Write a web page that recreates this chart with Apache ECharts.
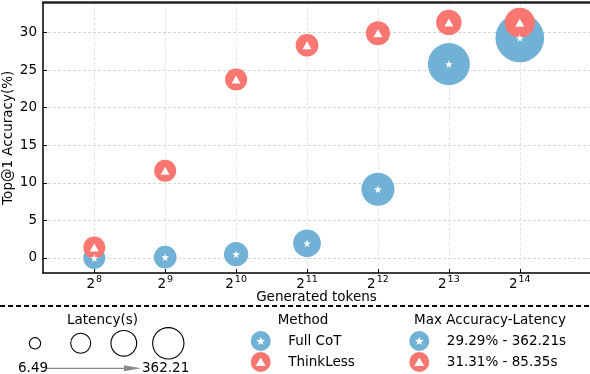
<!DOCTYPE html>
<html>
<head>
<meta charset="utf-8">
<script src="https://cdn.jsdelivr.net/npm/echarts@6/dist/echarts.min.js"></script>
<style>
  html, body { margin: 0; padding: 0; background: #fff; }
  #chart { width: 590px; height: 374px; }
</style>
</head>
<body>
<div id="chart"></div>
<script>
// generated tokens (2^8 .. 2^14)
const tokens = [256, 512, 1024, 2048, 4096, 8192, 16384];
const yTicks = [0, 5, 10, 15, 20, 25, 30];

// top@1 accuracy (%)
const fullCotAcc = [0.0, 0.1, 0.5, 1.95, 9.15, 25.8, 29.29];
const thinkLessAcc = [1.4, 11.6, 23.75, 28.3, 29.9, 31.35, 31.31];

// latency (s), mapped to bubble area
const fullCotLatency = [6.49, 13, 27, 60, 121, 248, 362.21];
const thinkLessLatency = [6.5, 7, 8, 13, 25, 37, 85.35];

const BLUE = '#71b1d6';
const RED = '#fa7670';
const FONT = 'DejaVu Sans';

// diameter^2 grows linearly with latency
const bubbleSize = (lat) => Math.sqrt(446 + 5.317 * lat);

const STAR = 'path://M50,0 L61,35 L98,35 L68,57 L79,91 L50,70 L21,91 L32,57 L2,35 L39,35 Z';

const xExp = tokens.map(t => Math.log2(t));
const fullCotPts = xExp.map((x, i) => [x, fullCotAcc[i], fullCotLatency[i]]);
const thinkLessPts = xExp.map((x, i) => [x, thinkLessAcc[i], thinkLessLatency[i]]);

function starPoints(cx, cy, R, r) {
  const pts = [];
  for (let k = 0; k < 10; k++) {
    const a = -Math.PI / 2 + k * Math.PI / 5;
    const rad = k % 2 === 0 ? R : r;
    pts.push([cx + rad * Math.cos(a), cy + rad * Math.sin(a)]);
  }
  return pts;
}
function triPoints(cx, cy, s) {
  return [[cx, cy - s * 0.55], [cx + s * 0.55, cy + s * 0.4], [cx - s * 0.55, cy + s * 0.4]];
}

const legendSizes = [11.3, 20, 25.7, 31.3];
const legendX = [35, 80.7, 123.8, 168.3];

const textStyle = (txt, x, y, align) => ({
  type: 'text', x: x, y: y,
  style: { text: txt, font: '13.5px "' + FONT + '"', fill: '#000', align: align || 'left', verticalAlign: 'middle' }
});

const graphics = [];
graphics.push({
  type: 'line', shape: { x1: 0, y1: 306, x2: 590, y2: 306 },
  style: { stroke: '#000', lineWidth: 2, lineDash: [5, 3] }
});
graphics.push(textStyle('Latency(s)', 102.5, 320, 'center'));
legendSizes.forEach((d, i) => {
  graphics.push({
    type: 'circle', shape: { cx: legendX[i], cy: 343.3, r: d / 2 },
    style: { fill: 'none', stroke: '#000', lineWidth: 1.1 }
  });
});
graphics.push(textStyle('6.49', 18, 368.5));
graphics.push({
  type: 'line', shape: { x1: 47, y1: 368.3, x2: 130, y2: 368.3 },
  style: { stroke: '#888', lineWidth: 1.2 }
});
graphics.push({
  type: 'polygon', shape: { points: [[124, 365.3], [141, 368.3], [124, 371.3]] },
  style: { fill: '#888' }
});
graphics.push(textStyle('362.21', 142, 368.5));

graphics.push(textStyle('Method', 303, 320, 'center'));
graphics.push(textStyle('Max Accuracy-Latency', 490, 320, 'center'));
[[260.7, 'Full CoT', 'ThinkLess'], [419.3, '29.29% - 362.21s', '31.31% - 85.35s']].forEach(([mx, t1, t2]) => {
  graphics.push({ type: 'circle', shape: { cx: mx, cy: 341, r: 10 }, style: { fill: BLUE } });
  graphics.push({ type: 'polygon', shape: { points: starPoints(mx, 341.3, 4.6, 2.0) }, style: { fill: '#fff' } });
  graphics.push({ type: 'circle', shape: { cx: mx, cy: 362, r: 10 }, style: { fill: RED } });
  graphics.push({ type: 'polygon', shape: { points: triPoints(mx, 362.5, 9) }, style: { fill: '#fff' } });
  graphics.push(textStyle(t1, mx + 27.5, 341));
  graphics.push(textStyle(t2, mx + 27.5, 362));
});

const chart = echarts.init(document.getElementById('chart'), null, { renderer: 'canvas' });

const option = {
  animation: false,
  backgroundColor: '#fff',
  textStyle: { fontFamily: FONT },
  grid: { left: 43, right: 0, top: 2.5, bottom: 101, containLabel: false, outerBoundsMode: 'none' },
  xAxis: [{
    type: 'value',
    min: 7.277,
    max: 14.99,
    name: 'Generated tokens',
    nameLocation: 'middle',
    nameGap: 17,
    nameMoveOverlap: false,
    nameTextStyle: { fontSize: 13.5, color: '#000', fontFamily: FONT },
    axisLine: { show: true, onZero: false, lineStyle: { color: '#000', width: 1.5 } },
    axisTick: { show: true, inside: true, length: 4, customValues: xExp, lineStyle: { color: '#000' } },
    axisLabel: {
      customValues: xExp,
      margin: 2,
      formatter: (v) => '{b|2}{s|' + Math.round(v) + '}',
      rich: {
        b: { fontSize: 13.5, color: '#000', fontFamily: FONT, verticalAlign: 'bottom', lineHeight: 16 },
        s: { fontSize: 9.5, color: '#000', fontFamily: FONT, verticalAlign: 'top', lineHeight: 16, padding: [0, 0, 6, 1] }
      }
    },
    splitLine: { show: true, lineStyle: { color: '#dddddd', type: [3, 2], width: 0.8 } }
  }, {
    type: 'value',
    position: 'top',
    min: 7.277,
    max: 14.99,
    axisLine: { show: true, onZero: false, lineStyle: { color: '#222', width: 2.5 } },
    axisTick: { show: false },
    axisLabel: { show: false },
    splitLine: { show: false }
  }],
  yAxis: {
    type: 'value',
    min: -2,
    max: 34,
    name: 'Top@1 Accuracy(%)',
    nameLocation: 'middle',
    nameGap: 28,
    nameMoveOverlap: false,
    nameTextStyle: { fontSize: 13.5, color: '#000', fontFamily: FONT },
    axisLine: { show: true, onZero: false, lineStyle: { color: '#000', width: 1.5 } },
    axisTick: { show: true, inside: true, length: 4, customValues: yTicks, lineStyle: { color: '#000' } },
    axisLabel: { customValues: yTicks, margin: 6, fontSize: 13.5, color: '#000', fontFamily: FONT },
    splitLine: { show: true, lineStyle: { color: '#cccccc', type: [3, 2], width: 0.8 } }
  },
  series: [
    {
      name: 'Full CoT', type: 'scatter', data: fullCotPts,
      symbol: 'circle', symbolSize: (v) => bubbleSize(v[2]),
      itemStyle: { color: BLUE, opacity: 1 }, silent: true
    },
    {
      name: 'ThinkLess', type: 'scatter', data: thinkLessPts,
      symbol: 'circle', symbolSize: (v) => bubbleSize(v[2]),
      itemStyle: { color: RED, opacity: 1 }, silent: true
    },
    {
      name: 'Full CoT mark', type: 'scatter', data: fullCotPts,
      symbol: STAR, symbolSize: 8, itemStyle: { color: '#fff', opacity: 1 }, silent: true
    },
    {
      name: 'ThinkLess mark', type: 'scatter', data: thinkLessPts,
      symbol: 'triangle', symbolSize: [9, 8], itemStyle: { color: '#fff', opacity: 1 }, silent: true
    }
  ],
  graphic: graphics
};

chart.setOption(option);
</script>
</body>
</html>
